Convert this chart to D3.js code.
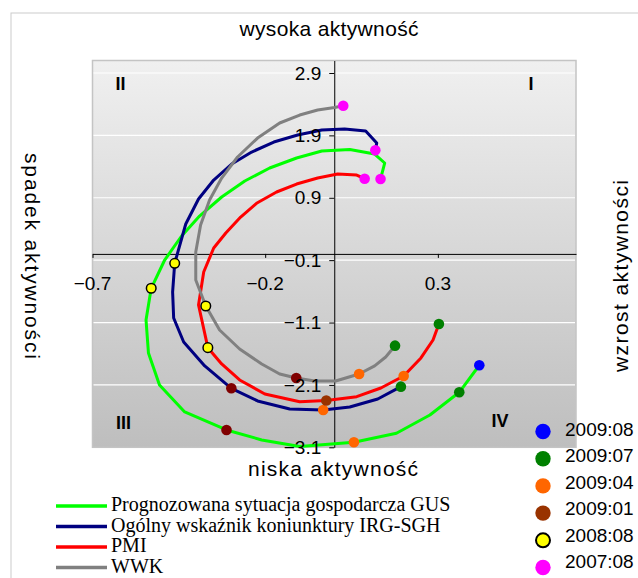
<!DOCTYPE html>
<html>
<head>
<meta charset="utf-8">
<script src="https://cdn.jsdelivr.net/npm/d3@7/dist/d3.min.js"></script>
<style>
  body { margin: 0; background: #fff; }
  svg { display: block; font-family: "Liberation Sans", Arial, sans-serif; }
</style>
</head>
<body>
<div id="chart"></div>
<script>
// ── Data ────────────────────────────────────────────────────────────────────

const months = [
    '2007:08', '2007:09', '2007:10', '2007:11', '2007:12', '2008:01', '2008:02',
    '2008:03', '2008:04', '2008:05', '2008:06', '2008:07', '2008:08', '2008:09',
    '2008:10', '2008:11', '2008:12', '2009:01', '2009:02', '2009:03', '2009:04',
    '2009:05', '2009:06', '2009:07', '2009:08'
];

// Prognozowana sytuacja gospodarcza GUS (to 2009:08)
const gusX = [0.134, 0.146, 0.117, 0.045, -0.036, -0.109, -0.187, -0.259, -0.326, -0.390, -0.442, -0.491,
    -0.530, -0.545, -0.538, -0.506, -0.433, -0.312, -0.210, -0.100, 0.057, 0.180, 0.277, 0.362, 0.420];
const gusY = [1.200, 1.457, 1.601, 1.673, 1.649, 1.537, 1.377, 1.168, 0.912, 0.607, 0.287, -0.098,
    -0.551, -1.059, -1.588, -2.101, -2.534, -2.822, -2.982, -3.087, -3.019, -2.875, -2.582, -2.218, -1.785];

// Ogólny wskaźnik koniunktury IRG-SGH (to 2009:07)
const irgX = [0.119, 0.123, 0.091, 0.030, -0.036, -0.106, -0.175, -0.239, -0.297, -0.349, -0.393, -0.430,
    -0.462, -0.468, -0.465, -0.436, -0.375, -0.298, -0.222, -0.129, -0.032, 0.045, 0.126, 0.193];
const irgY = [1.660, 1.777, 1.970, 2.002, 1.986, 1.905, 1.793, 1.633, 1.441, 1.184, 0.880, 0.479,
    -0.151, -0.611, -1.027, -1.412, -1.796, -2.154, -2.357, -2.486, -2.502, -2.454, -2.325, -2.128];

// PMI (to 2009:07)
const pmiX = [0.088, 0.065, 0.010, -0.048, -0.109, -0.167, -0.225, -0.271, -0.314, -0.349, -0.378, -0.393,
    -0.366, -0.326, -0.274, -0.201, -0.100, -0.023, 0.065, 0.135, 0.201, 0.251, 0.286, 0.303];
const pmiY = [1.205, 1.264, 1.280, 1.216, 1.120, 0.992, 0.811, 0.591, 0.335, 0.095, -0.290, -0.819,
    -1.503, -1.764, -2.021, -2.245, -2.369, -2.349, -2.288, -2.149, -1.957, -1.668, -1.380, -1.123];

// WWK (to 2009:07)
const wwkX = [0.026, 0.001, -0.048, -0.100, -0.158, -0.222, -0.280, -0.326, -0.361, -0.387, -0.401, -0.401,
    -0.372, -0.332, -0.274, -0.210, -0.158, -0.110, -0.057, 0.004, 0.072, 0.117, 0.149, 0.176];
const wwkY = [2.375, 2.346, 2.306, 2.226, 2.098, 1.857, 1.553, 1.216, 0.864, 0.463, 0.030, -0.418,
    -0.835, -1.220, -1.524, -1.764, -1.925, -1.989, -2.037, -2.037, -1.925, -1.796, -1.652, -1.471];

const seriesNames = [
    'Prognozowana sytuacja gospodarcza GUS',
    'Ogólny wskaźnik koniunktury IRG-SGH',
    'PMI',
    'WWK'
];

const markerMonths = ['2009:08', '2009:07', '2009:04', '2009:01', '2008:08', '2007:08'];

const xTicks = [-0.7, -0.2, 0.3];
const yTicks = [-3.1, -2.1, -1.1, -0.1, 0.9, 1.9, 2.9];

// ── Styles ──────────────────────────────────────────────────────────────────

const W = 638, H = 578;
const PLOT = { left: 92.5, right: 576, top: 60.5, bottom: 447.3 };
const FONT = '"Liberation Sans", Arial, sans-serif';
const SERIF = '"Liberation Serif", "Times New Roman", serif';

const SERIES_COLORS = ['#00ff00', '#000080', '#ff0000', '#808080'];
const MARKER_COLORS = {
    '2009:08': '#0000ff',
    '2009:07': '#008000',
    '2009:04': '#ff6600',
    '2009:01': '#800000',
    '2008:08': '#ffff00',
    '2007:08': '#ff00ff'
};
const LEGEND_JAN_COLOR = '#993300';

// ── Build ───────────────────────────────────────────────────────────────────

const series = [
    { name: seriesNames[0], xs: gusX, ys: gusY, color: SERIES_COLORS[0] },
    { name: seriesNames[1], xs: irgX, ys: irgY, color: SERIES_COLORS[1] },
    { name: seriesNames[2], xs: pmiX, ys: pmiY, color: SERIES_COLORS[2], janColor: LEGEND_JAN_COLOR },
    { name: seriesNames[3], xs: wwkX, ys: wwkY, color: SERIES_COLORS[3] }
].map(s => ({
    ...s,
    points: s.xs.map((x, i) => ({ x, y: s.ys[i], month: months[i] }))
}));

const x = d3.scaleLinear().domain([-0.7, 0.7]).range([PLOT.left, PLOT.right]);
const y = d3.scaleLinear().domain([-3.1, 3.1]).range([PLOT.bottom, PLOT.top]);

const svg = d3.select('#chart').append('svg')
    .attr('width', W)
    .attr('height', H)
    .attr('viewBox', `0 0 ${W} ${H}`);

// outer chart border
svg.append('rect')
    .attr('x', 11).attr('y', 13)
    .attr('width', 700).attr('height', 700)
    .attr('fill', '#fff')
    .attr('stroke', '#cccccc')
    .attr('stroke-width', 1);

const grad = svg.append('defs').append('linearGradient')
    .attr('id', 'bg').attr('x1', 0).attr('y1', 0).attr('x2', 0).attr('y2', 1);
grad.append('stop').attr('offset', '0%').attr('stop-color', '#f0f0f0');
grad.append('stop').attr('offset', '100%').attr('stop-color', '#bebebe');

svg.append('rect')
    .attr('x', PLOT.left).attr('y', PLOT.top)
    .attr('width', PLOT.right - PLOT.left)
    .attr('height', PLOT.bottom - PLOT.top)
    .attr('fill', 'url(#bg)')
    .attr('stroke', '#c4c4c4')
    .attr('stroke-width', 1.5);

// white gridlines
svg.append('g')
    .selectAll('line')
    .data(yTicks.filter(v => v > -3.1))
    .join('line')
    .attr('x1', PLOT.left + 1).attr('x2', PLOT.right - 1)
    .attr('y1', d => y(d)).attr('y2', d => y(d))
    .attr('stroke', '#ffffff')
    .attr('stroke-width', 1.2);

// axes crossing at 0 (lines below the series, labels above)
const axisLayer = svg.append('g');
const lineLayer = svg.append('g');
const labelLayer = svg.append('g');

const xAxis = axisLayer.append('g')
    .attr('transform', `translate(0,${y(0)})`)
    .call(d3.axisBottom(x).tickValues(xTicks).tickSize(4).tickSizeOuter(0).tickFormat(d3.format('.1f')));
xAxis.select('.domain').attr('stroke', '#000');
xAxis.selectAll('.tick line').attr('stroke', '#000');
xAxis.selectAll('.tick text').remove();

const yAxis = axisLayer.append('g')
    .attr('transform', `translate(${x(0)},0)`)
    .call(d3.axisLeft(y).tickValues(yTicks).tickSize(5).tickSizeOuter(0).tickFormat(d3.format('.1f')));
yAxis.select('.domain').attr('stroke', '#000');
yAxis.selectAll('.tick line').attr('stroke', '#000');
yAxis.selectAll('.tick text').remove();

const fmt = d3.format('.1f');

labelLayer.append('g')
    .selectAll('text')
    .data(xTicks)
    .join('text')
    .attr('x', d => x(d))
    .attr('y', y(0) + 29)
    .attr('dy', '0.35em')
    .attr('text-anchor', 'middle')
    .attr('font-size', 19).attr('font-family', FONT).attr('fill', '#000')
    .text(fmt);

labelLayer.append('g')
    .selectAll('text')
    .data(yTicks)
    .join('text')
    .attr('x', x(0) - 13)
    .attr('y', d => y(d))
    .attr('dy', '0.35em')
    .attr('text-anchor', 'end')
    .attr('font-size', 19).attr('font-family', FONT).attr('fill', '#000')
    .text(fmt);

// series lines
const line = d3.line().x(d => x(d.x)).y(d => y(d.y));

lineLayer.append('g')
    .selectAll('path')
    .data(series)
    .join('path')
    .attr('d', d => line(d.points))
    .attr('fill', 'none')
    .attr('stroke', d => d.color)
    .attr('stroke-width', 3)
    .attr('stroke-linejoin', 'round')
    .attr('stroke-linecap', 'round');

// month markers
const markers = series.flatMap(s =>
    s.points
        .filter(p => markerMonths.includes(p.month))
        .map(p => ({ ...p, fill: (p.month === '2009:01' && s.janColor) ? s.janColor : MARKER_COLORS[p.month] }))
);

lineLayer.append('g')
    .selectAll('circle')
    .data(markers)
    .join('circle')
    .attr('cx', d => x(d.x))
    .attr('cy', d => y(d.y))
    .attr('r', d => d.month === '2008:08' ? 4.8 : 5.3)
    .attr('fill', d => d.fill)
    .attr('stroke', d => d.month === '2008:08' ? '#000' : 'none')
    .attr('stroke-width', 1.5);

// quadrant labels
const quad = svg.append('g')
    .attr('font-family', FONT).attr('font-weight', 'bold').attr('font-size', 18)
    .attr('text-anchor', 'middle');
[
    ['I', PLOT.right - 45, PLOT.top + 23],
    ['II', PLOT.left + 28, PLOT.top + 23],
    ['III', PLOT.left + 31, PLOT.bottom - 25],
    ['IV', PLOT.right - 76, PLOT.bottom - 27]
].forEach(([t, qx, qy]) => {
    quad.append('text').attr('x', qx).attr('y', qy).attr('dy', '0.35em').text(t);
});

// axis titles
const title = (txt, tx, ty, rot, len) => {
    svg.append('text')
        .attr('transform', `translate(${tx},${ty}) rotate(${rot})`)
        .attr('text-anchor', 'middle')
        .attr('font-family', FONT)
        .attr('font-size', 21)
        .attr('fill', '#000')
        .attr('textLength', len)
        .attr('lengthAdjust', 'spacing')
        .text(txt);
};
title('wysoka aktywność', 329, 36, 0, 179);
title('niska aktywność', 333, 476, 0, 170);
title('spadek aktywności', 25, 256, 90, 206);
title('wzrost aktywności', 628, 276, -90, 192);

// series legend (bottom)
const legS = svg.append('g');
series.forEach((s, i) => {
    const ly = 506 + i * 20.5;
    legS.append('line')
        .attr('x1', 56).attr('x2', 107)
        .attr('y1', ly).attr('y2', ly)
        .attr('stroke', s.color)
        .attr('stroke-width', 3.5);
    legS.append('text')
        .attr('x', 111).attr('y', ly + 5)
        .attr('font-family', SERIF)
        .attr('font-size', 20)
        .attr('fill', '#000')
        .text(s.name);
});

// month legend (right)
const legM = svg.append('g');
markerMonths.forEach((m, i) => {
    legM.append('circle')
        .attr('cx', 543)
        .attr('cy', 431.5 + i * 27.2)
        .attr('r', m === '2008:08' ? 7 : 7.7)
        .attr('fill', m === '2009:01' ? LEGEND_JAN_COLOR : MARKER_COLORS[m])
        .attr('stroke', m === '2008:08' ? '#000' : 'none')
        .attr('stroke-width', 2);
    legM.append('text')
        .attr('x', 565)
        .attr('y', 429 + i * 26.5)
        .attr('dy', '0.35em')
        .attr('font-family', FONT)
        .attr('font-size', 19)
        .attr('fill', '#000')
        .text(m);
});
</script>
</body>
</html>
